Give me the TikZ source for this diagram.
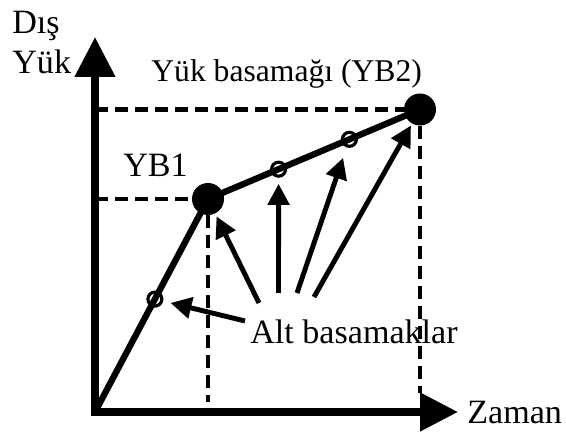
\documentclass[tikz,border=0pt]{standalone}
\usepackage{fontspec}
\setmainfont{Liberation Serif}
\usetikzlibrary{positioning, arrows.meta, calc}

\begin{document}
\begin{tikzpicture}[font=\fontsize{19.4}{22.5}\selectfont,
  axis/.style={line width=4.4pt, {Triangle[length=0.8cm, width=0.78cm]}-{Triangle[length=0.76cm, width=0.74cm]}},
  guide/.style={line width=2.5pt, dash pattern=on 0.26cm off 0.14cm},
  load/.style={line width=3.6pt},
  pointer/.style={line width=2.8pt, -{Triangle[length=0.42cm, width=0.42cm]}},
  ybdot/.style={circle, fill=black, minimum size=0.64cm, inner sep=0pt},
  subdot/.style={circle, draw, line width=1.8pt, minimum size=0.28cm, inner sep=0pt}
]
  \useasboundingbox (-1.9,-0.42) rectangle (9.42,8.24);

  % axes
  \coordinate (o) at (0,0);
  \coordinate (ytop) at (0,7.5);
  \coordinate (xend) at (7.26,0);

  % load steps
  \node[ybdot] (yb1) at (2.26,4.26) {};
  \node[ybdot] (yb2) at (6.5,6.05) {};

  \draw[guide] (o |- yb1) -- (yb1);
  \draw[guide] (o |- yb2) -- (yb2);
  \draw[guide] (yb1) -- (yb1 |- 0,0.2);
  \draw[guide] (yb2) -- (yb2 |- 0,0.38);

  \draw[axis] (ytop) -- (o) -- (xend);
  \draw[load] (o) -- (yb1.center) -- (yb2.center);

  \node[subdot] (s1) at ($(o)!0.53!(yb1)$) {};
  \node[subdot] (s2) at ($(yb1)!0.333!(yb2)$) {};
  \node[subdot] (s3) at ($(yb1)!0.667!(yb2)$) {};

  % labels
  \node[anchor=north west, align=left, inner sep=0pt] (load) at (-1.66,8.02) {Dış\\Yük};
  \node[anchor=base west, inner sep=0pt, font=\fontsize{18}{21}\selectfont] (yb2lbl) at (1.12,6.6) {Yük basamağı (YB2)};
  \node[anchor=base west, inner sep=0pt] (yb1lbl) at (0.56,4.7) {YB1};
  \node[anchor=base west, inner sep=0pt] (time) at (7.44,-0.22) {Zaman};
  \node[anchor=base west, inner sep=0pt] (alt) at (3.1,1.38) {Alt basamaklar};

  % pointers to the sub steps
  \coordinate (t1) at (3.0,1.82);
  \coordinate (t2) at (3.28,2.18);
  \coordinate (t3) at (3.67,2.38);
  \coordinate (t4) at (4.04,2.38);
  \coordinate (t5) at (4.38,2.3);
  \draw[pointer, shorten >=0.15cm] (t1) -- (s1);
  \draw[pointer, shorten >=0.06cm] (t2) -- (yb1);
  \draw[pointer, shorten >=0.12cm] (t3) -- (s2);
  \draw[pointer, shorten >=0.22cm] (t4) -- (s3);
  \draw[pointer, shorten >=0.04cm] (t5) -- (yb2);
\end{tikzpicture}
\end{document}
